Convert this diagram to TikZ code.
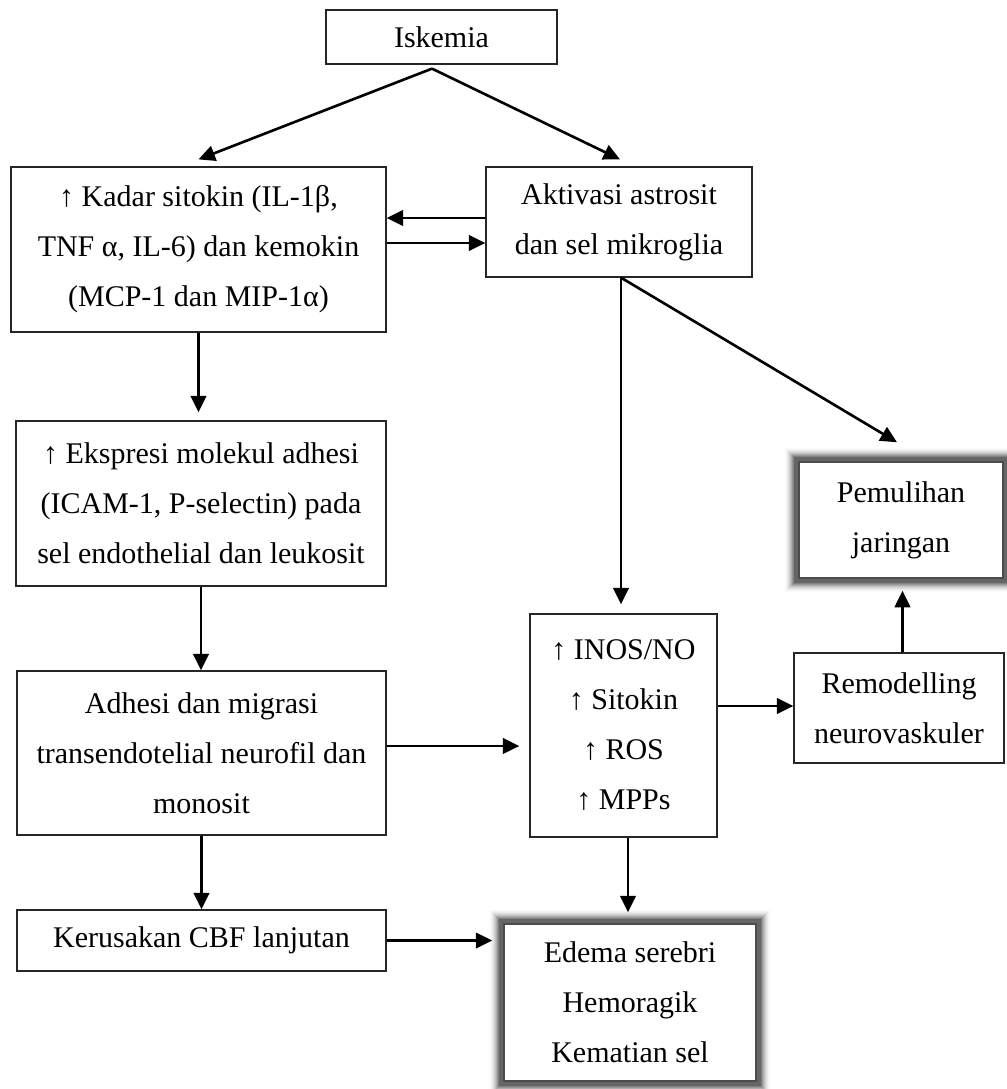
\documentclass[tikz,border=0pt]{standalone}
\usepackage{fontspec}
\setmainfont{Liberation Serif}
\usetikzlibrary{arrows.meta,calc}
\pgfdeclarelayer{background}
\pgfsetlayers{background,main}

\tikzset{
  box/.style={draw=black!85, line width=0.5pt, fill=white, align=center,
    inner sep=0pt, font=\fontsize{12}{20}\selectfont},
  glowbox/.style={box, draw=black!70, line width=0.6pt},
  arr/.style={line width=1.05pt, -{Triangle[length=6.6pt,width=6.2pt]}},
}

% a box given by its corner pixels (x1,y1) and (x2,y2)
\newcommand\flowbox[7]{%
  \node[#2, minimum width={(#5-#3)*0.4pt}, minimum height={(#6-#4)*0.4pt}]
    (#1) at ({(#3+#5)/2},{(#4+#6)/2}) {#7};}

% soft grey halo behind a box: a dark band fading out over a few pixels
\newcommand\halo[1]{%
  \foreach \k in {14,13,...,1}{%
    \pgfmathsetmacro\c{60*(min(1,(15-\k)/11))^2}%
    \fill[black!\c] ($(#1.north west)+(-\k,-\k)$) rectangle ($(#1.south east)+(\k,\k)$);}}

\begin{document}
\begin{tikzpicture}[x=0.4pt,y=-0.4pt]
\useasboundingbox (0,0) rectangle (1007,1089);

\flowbox{isk}{box}{326}{10}{557}{64}{Iskemia}
\flowbox{kadar}{box}{11}{167}{386}{332}{↑ Kadar sitokin (IL-1β,\\TNF α, IL-6) dan kemokin\\(MCP-1 dan MIP-1α)}
\flowbox{akt}{box}{486}{167}{752}{277}{Aktivasi astrosit\\dan sel mikroglia}
\flowbox{eks}{box}{16}{421}{386}{586}{↑ Ekspresi molekul adhesi\\(ICAM-1, P-selectin) pada\\sel endothelial dan leukosit}
\flowbox{adh}{box}{17}{671}{386}{835}{Adhesi dan migrasi\\transendotelial neurofil dan\\monosit}
\flowbox{ker}{box}{17}{910}{386}{971}{Kerusakan CBF lanjutan}
\flowbox{inos}{box}{530}{614}{717}{837}{↑ INOS/NO\\↑ Sitokin\\↑ ROS\\↑ MPPs}
\flowbox{rem}{box}{794}{653}{1004}{763}{Remodelling\\neurovaskuler}
\flowbox{pem}{glowbox}{799}{462}{1003}{578}{Pemulihan\\jaringan}
\flowbox{ede}{glowbox}{504}{924}{756}{1081}{Edema serebri\\Hemoragik\\Kematian sel}

\begin{pgfonlayer}{background}
  \halo{pem}
  \halo{ede}
\end{pgfonlayer}

% connectors
\coordinate (iskout) at ($(isk.south)+(-9.5,4)$);
\draw[arr] (iskout) -- ($(kadar.north)+(0,-7)$);
\draw[arr] (iskout) -- ($(akt.north)+(1,-7)$);

\coordinate (ka1) at ($(akt.west)+(0,-4)$);
\draw[arr] (ka1) -- (ka1 -| kadar.east);
\coordinate (ka2) at ($(akt.west)+(0,21)$);
\draw[arr] (ka2 -| kadar.east) -- (ka2);

\draw[arr, shorten >=8*0.4pt] (kadar.south) -- (kadar.south |- eks.north);
\draw[arr] (eks.south) -- (eks.south |- adh.north);
\draw[arr] (adh.south) -- (adh.south |- ker.north);

\coordinate (ai) at ($(adh.east)+(0,-7)$);
\draw[arr, shorten >=10*0.4pt] (ai) -- (ai -| inos.west);
\draw[arr, shorten >=11*0.4pt] (ker.east) -- (ker.east -| ede.west);

\coordinate (aktout) at ($(akt.south)+(2,0)$);
\draw[arr, shorten >=9*0.4pt] (aktout) -- (aktout |- inos.north);
\draw[arr] (aktout) -- ($(pem.north)+(-4,-19)$);

\coordinate (ir) at ($(inos.east)+(0,-19.5)$);
\draw[arr] (ir) -- (ir -| rem.west);
\coordinate (ie) at ($(inos.south)+(4.5,0)$);
\draw[arr, shorten >=11*0.4pt] (ie) -- (ie |- ede.north);
\coordinate (rp) at ($(rem.north)+(3.5,0)$);
\draw[arr, shorten >=12*0.4pt] (rp) -- (rp |- pem.south);
\end{tikzpicture}
\end{document}
